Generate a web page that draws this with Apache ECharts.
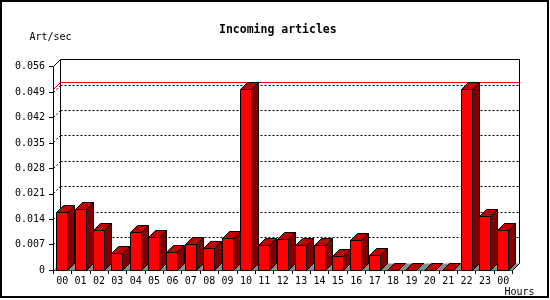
<!DOCTYPE html>
<html>
<head>
<meta charset="utf-8">
<script src="https://cdn.jsdelivr.net/npm/echarts@6/dist/echarts.min.js"></script>
<style>html,body{margin:0;padding:0;background:#fff;}#c{width:550px;height:300px;}</style>
</head>
<body>
<div id="c"></div>
<script>
const hours = ['00','01','02','03','04','05','06','07','08','09','10','11','12','13','14','15','16','17','18','19','20','21','22','23','00'];
const articlesPerSec = [0.0159,0.0167,0.0110,0.0046,0.0104,0.0090,0.0049,0.0071,0.0060,0.0087,0.0496,0.0068,0.0085,0.0068,0.0068,0.0038,0.0080,0.0040,0,0,0,0,0.0496,0.0148,0.0109];
const yMin = 0, yMax = 0.056, yStep = 0.007;
const gridLevels = [0.007,0.014,0.021,0.028,0.035,0.042,0.049];

const DX = 7, DY = 7, BAR_W = 11;
const FONT = 'DejaVu Sans Mono';
const hp = v => Math.round(v - 0.5) + 0.5;

const chart = echarts.init(document.getElementById('c'), null, {renderer: 'canvas'});
const maxVal = Math.max.apply(null, articlesPerSec);

function renderFrame(params, api) {
  const cs = params.coordSys;
  const L = hp(cs.x), R = hp(cs.x + cs.width), T = hp(cs.y), B = hp(cs.y + cs.height);
  const ch = [];
  // floor
  ch.push({type:'polygon', shape:{points:[[L,B],[R,B],[R+DX,B-DY],[L+DX,B-DY]]}, style:{fill:'#8c8c8c', stroke:null}});
  ch.push({type:'line', shape:{x1:R,y1:B,x2:R+DX,y2:B-DY}, style:{stroke:'#000', lineWidth:1}});
  // back wall
  ch.push({type:'polyline', shape:{points:[[L+DX,B-DY],[L+DX,T-DY],[R+DX,T-DY],[R+DX,B-DY]]}, style:{stroke:'#000', lineWidth:1, fill:null}});
  ch.push({type:'line', shape:{x1:L,y1:T,x2:L+DX,y2:T-DY}, style:{stroke:'#000', lineWidth:1}});
  // dashed grid
  gridLevels.forEach(function (g) {
    const y = hp(api.coord([0, g])[1]);
    ch.push({type:'line', shape:{x1:L+DX,y1:y-DY,x2:R+DX,y2:y-DY}, style:{stroke:'#000', lineWidth:1, lineDash:[2,2]}});
    ch.push({type:'line', shape:{x1:L,y1:y,x2:L+DX,y2:y-DY}, style:{stroke:'#000', lineWidth:1, lineDash:[2,2]}});
  });
  // max line
  const ym = hp(api.coord([0, maxVal])[1]);
  ch.push({type:'polyline', shape:{points:[[L,ym],[L+DX,ym-DY],[R+DX,ym-DY]]}, style:{stroke:'#ff0000', lineWidth:1, fill:null}});
  return {type:'group', children: ch};
}

function renderBar(params, api) {
  const idx = api.value(0), v = api.value(1);
  const base = api.coord([idx, 0]);
  const top = api.coord([idx, v]);
  const x0 = hp(base[0] - BAR_W / 2), x1 = x0 + BAR_W;
  const yb = hp(base[1]), yt = hp(top[1]);
  const st = {stroke:'#000', lineWidth:1};
  return {type:'group', children:[
    {type:'polygon', shape:{points:[[x0,yb],[x0,yt],[x1,yt],[x1,yb]]}, style:Object.assign({fill:'#ff0000'}, st)},
    {type:'polygon', shape:{points:[[x1,yb],[x1,yt],[x1+DX,yt-DY],[x1+DX,yb-DY]]}, style:Object.assign({fill:'#800000'}, st)},
    {type:'polygon', shape:{points:[[x0,yt],[x0+DX,yt-DY],[x1+DX,yt-DY],[x1,yt]]}, style:Object.assign({fill:'#c00000'}, st)}
  ]};
}

const option = {
  animation: false,
  backgroundColor: '#fff',
  title: {
    text: 'Incoming articles', left: 214, top: 19,
    textStyle: {fontFamily: FONT, fontWeight: 'bold', fontSize: 11.5, color: '#000'}
  },
  grid: {left: 53, right: 37.5, top: 66.7, bottom: 30, containLabel: false},
  xAxis: {
    type: 'category', data: hours, boundaryGap: true,
    name: 'Hours', nameLocation: 'end', nameGap: -8,
    nameTextStyle: {fontFamily: FONT, fontSize: 10, color: '#000', align: 'left', verticalAlign: 'top', padding: [17,0,0,0]},
    axisLine: {show: true, lineStyle: {color: '#000', width: 1}},
    axisTick: {show: true, length: 4, interval: 0, lineStyle: {color: '#000'}},
    axisLabel: {interval: 0, margin: 6, fontFamily: FONT, fontSize: 10, color: '#000'},
    splitLine: {show: false}
  },
  yAxis: {
    type: 'value', min: yMin, max: yMax, interval: yStep,
    name: 'Art/sec', nameLocation: 'end', nameGap: 24,
    nameTextStyle: {fontFamily: FONT, fontSize: 10, color: '#000', padding: [0,5,0,0]},
    axisLine: {show: true, lineStyle: {color: '#000', width: 1}},
    axisTick: {show: true, length: 4, lineStyle: {color: '#000'}},
    axisLabel: {margin: 8, fontFamily: FONT, fontSize: 10, color: '#000',
      formatter: function (v) { return v === 0 ? '0' : v.toFixed(3); }},
    splitLine: {show: false}
  },
  graphic: [{type:'rect', shape:{x:1, y:1, width:547, height:296}, style:{fill:null, stroke:'#000', lineWidth:2}, silent:true, z:100}],
  series: [
    {type:'custom', name:'frame', renderItem: renderFrame, data: [[0, 0]], silent: true, clip: false, z: 1},
    {type:'custom', name:'Incoming', renderItem: renderBar,
     data: articlesPerSec.map(function (v, i) { return [i, v]; }),
     encode: {x: 0, y: 1}, clip: false, silent: true, z: 2}
  ]
};
chart.setOption(option);
</script>
</body>
</html>
